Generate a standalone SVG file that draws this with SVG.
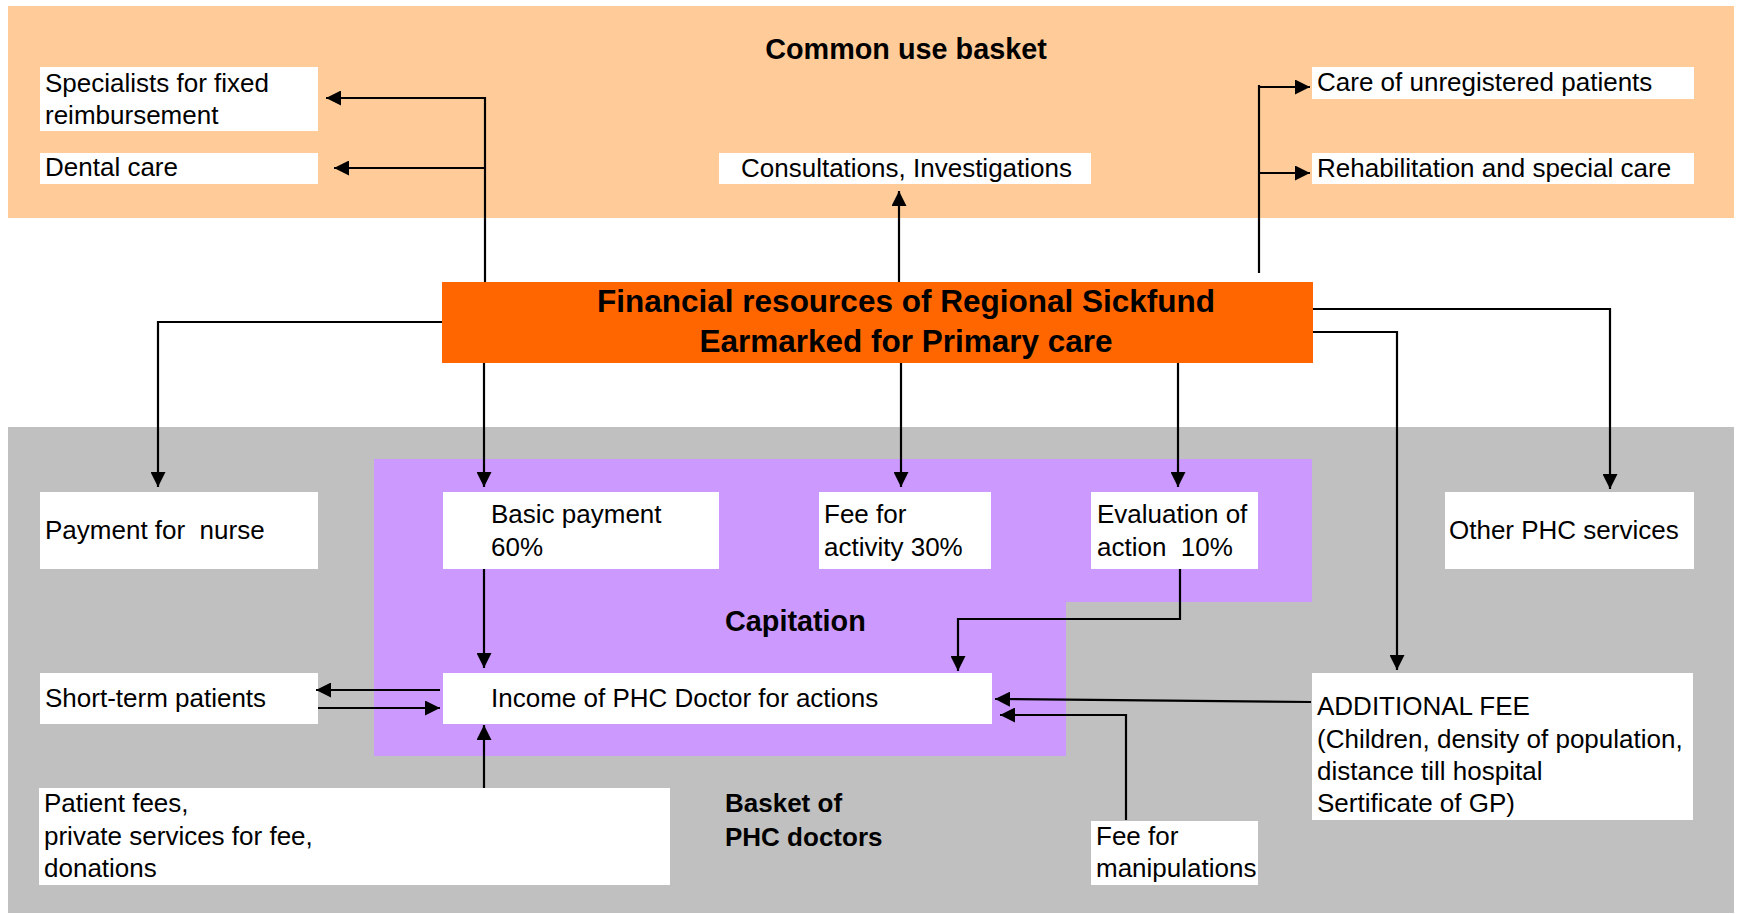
<svg xmlns="http://www.w3.org/2000/svg" width="1739" height="914" viewBox="0 0 1739 914">
<style>
.box{fill:#FFFFFF;}
.t{font-family:"Liberation Sans",Arial,sans-serif;font-size:26px;fill:#000;}
.b{font-family:"Liberation Sans",Arial,sans-serif;font-weight:bold;fill:#000;}
.c{fill:none;stroke:#000;stroke-width:2.2;}
.a{marker-end:url(#arr);}
</style>
<defs>
<marker id="arr" viewBox="0 0 15 15" refX="15" refY="7.5" markerWidth="15" markerHeight="15" markerUnits="userSpaceOnUse" orient="auto">
<path d="M0,0 L15,7.5 L0,15 z" fill="#000"/>
</marker>
</defs>
<rect width="1739" height="914" fill="#FFFFFF"/>
<g id="region-common">
<rect x="8" y="6" width="1726" height="212" fill="#FFCC99"/>
<text class="b" x="906" y="59" font-size="28.8" text-anchor="middle">Common use basket</text>
</g>
<g id="region-phc">
<rect x="8" y="427" width="1726" height="486" fill="#C0C0C0"/>
<text class="b" x="725" y="812" font-size="26">Basket of</text>
<text class="b" x="725" y="846" font-size="26">PHC doctors</text>
</g>
<g id="region-capitation">
<polygon points="374,459 1312,459 1312,602 1066,602 1066,756 374,756" fill="#CC99FF"/>
<text class="b" x="725" y="631" font-size="28.8">Capitation</text>
</g>
<g id="specialists">
<rect class="box" x="40" y="67" width="278" height="64"/>
<text class="t" x="45" y="92">Specialists for fixed</text>
<text class="t" x="45" y="124">reimbursement</text>
</g>
<g id="dental">
<rect class="box" x="40" y="153" width="278" height="31"/>
<text class="t" x="45" y="176">Dental care</text>
</g>
<g id="consultations">
<rect class="box" x="719" y="153" width="372" height="31"/>
<text class="t" x="741" y="177">Consultations, Investigations</text>
</g>
<g id="unregistered">
<rect class="box" x="1312" y="67" width="382" height="32"/>
<text class="t" x="1317" y="91">Care of unregistered patients</text>
</g>
<g id="rehabilitation">
<rect class="box" x="1312" y="153" width="382" height="31"/>
<text class="t" x="1317" y="177">Rehabilitation and special care</text>
</g>
<g id="financial">
<rect x="442" y="282" width="871" height="81" fill="#FF6600"/>
<text class="b" x="906" y="312" font-size="31.5" text-anchor="middle">Financial resources of Regional Sickfund</text>
<text class="b" x="906" y="352" font-size="31.5" text-anchor="middle">Earmarked for Primary care</text>
</g>
<g id="nurse">
<rect class="box" x="40" y="492" width="278" height="77"/>
<text class="t" x="45" y="539" xml:space="preserve">Payment for  nurse</text>
</g>
<g id="basic">
<rect class="box" x="443" y="492" width="276" height="77"/>
<text class="t" x="491" y="523">Basic payment</text>
<text class="t" x="491" y="556">60%</text>
</g>
<g id="activity">
<rect class="box" x="819" y="492" width="172" height="77"/>
<text class="t" x="824" y="523">Fee for</text>
<text class="t" x="824" y="556">activity 30%</text>
</g>
<g id="evaluation">
<rect class="box" x="1091" y="492" width="167" height="77"/>
<text class="t" x="1097" y="523">Evaluation of</text>
<text class="t" x="1097" y="556" xml:space="preserve">action  10%</text>
</g>
<g id="other">
<rect class="box" x="1445" y="492" width="249" height="77"/>
<text class="t" x="1449" y="539">Other PHC services</text>
</g>
<g id="shortterm">
<rect class="box" x="40" y="673" width="278" height="51"/>
<text class="t" x="45" y="707">Short-term patients</text>
</g>
<g id="income">
<rect class="box" x="443" y="673" width="549" height="51"/>
<text class="t" x="491" y="707">Income of PHC Doctor for actions</text>
</g>
<g id="patientfees">
<rect class="box" x="39" y="788" width="631" height="97"/>
<text class="t" x="44" y="812">Patient fees,</text>
<text class="t" x="44" y="845">private services for fee,</text>
<text class="t" x="44" y="877">donations</text>
</g>
<g id="additional">
<rect class="box" x="1312" y="673" width="381" height="147"/>
<text class="t" x="1317" y="715">ADDITIONAL FEE</text>
<text class="t" x="1317" y="748">(Children, density of population,</text>
<text class="t" x="1317" y="780">distance till hospital</text>
<text class="t" x="1317" y="812">Sertificate of GP)</text>
</g>
<g id="manipulations">
<rect class="box" x="1091" y="821" width="167" height="64"/>
<text class="t" x="1096" y="845">Fee for</text>
<text class="t" x="1096" y="877">manipulations</text>
</g>
<g id="connectors">
<path class="c a" d="M485,282 V98 H326"/>
<path class="c a" d="M485,168 H334"/>
<path class="c a" d="M899,282 V191"/>
<path class="c" d="M1259,273 V85"/>
<path class="c a" d="M1259,87 H1310"/>
<path class="c a" d="M1259,173 H1310"/>
<path class="c a" d="M442,322 H158 V487"/>
<path class="c a" d="M484,363 V487"/>
<path class="c a" d="M901,363 V487"/>
<path class="c a" d="M1178,363 V487"/>
<path class="c a" d="M1313,309 H1610 V489"/>
<path class="c a" d="M1313,332 H1397 V670"/>
<path class="c a" d="M484,569 V668"/>
<path class="c a" d="M1180,569 V619 H958 V671"/>
<path class="c a" d="M440,690 H316"/>
<path class="c a" d="M318,708 H440"/>
<path class="c a" d="M484,788 V725"/>
<path class="c a" d="M1311,702 L995,699"/>
<path class="c a" d="M1126,820 V715 H1000"/>
</g>
</svg>
